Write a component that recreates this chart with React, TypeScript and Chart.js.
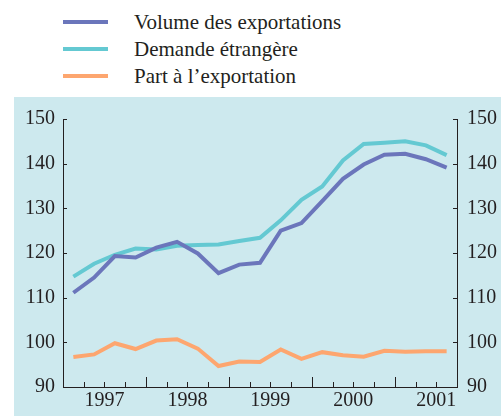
import React, { useEffect, useRef } from "react";
import { Chart, registerables } from "chart.js";

Chart.register(...registerables);

// Quarterly points, 1997 Q1 .. 2001 Q3
const quarters = [
  "1997T1", "1997T2", "1997T3", "1997T4",
  "1998T1", "1998T2", "1998T3", "1998T4",
  "1999T1", "1999T2", "1999T3", "1999T4",
  "2000T1", "2000T2", "2000T3", "2000T4",
  "2001T1", "2001T2", "2001T3",
];
const years = ["1997", "1998", "1999", "2000", "2001"];

const volumeExportations = [
  111.1, 114.5, 119.3, 119.0, 121.2, 122.5, 119.9, 115.5, 117.4, 117.8,
  125.0, 126.7, 131.6, 136.6, 139.8, 142.0, 142.2, 141.0, 139.1,
];
const demandeEtrangere = [
  114.7, 117.6, 119.6, 121.0, 120.8, 121.6, 121.8, 121.9, 122.7, 123.4,
  127.3, 131.9, 134.9, 140.7, 144.4, 144.7, 145.0, 144.1, 141.9,
];
const partExportation = [
  96.7, 97.3, 99.8, 98.5, 100.4, 100.7, 98.6, 94.7, 95.7, 95.6,
  98.4, 96.3, 97.8, 97.1, 96.8, 98.1, 97.9, 98.0, 98.0,
];

const seriesNames = ["Volume des exportations", "Demande étrangère", "Part à l’exportation"];
const seriesColors = ["#6b76bb", "#64c9d2", "#fda66f"];

const Y_MIN = 90;
const Y_MAX = 150;
const FONT = "'Liberation Serif', 'Times New Roman', serif";
const INK = "#231f20";

const tickMarks = {
  id: "tickMarks",
  afterDraw(chart: any) {
    const { ctx, chartArea } = chart;
    ctx.save();
    ctx.strokeStyle = INK;
    ctx.lineWidth = 1;
    const xs = chart.scales.x;
    xs.ticks.forEach((t: any) => {
      if (t.value <= xs.min || t.value >= xs.max) return;
      const px = Math.round(xs.getPixelForValue(t.value)) + 0.5;
      const len = t.value % 4 === 0 ? 10 : 5;
      ctx.beginPath();
      ctx.moveTo(px, chartArea.bottom);
      ctx.lineTo(px, chartArea.bottom - len);
      ctx.stroke();
    });
    const yl = chart.scales.y;
    yl.ticks.forEach((t: any) => {
      const py = Math.round(yl.getPixelForValue(t.value)) + 0.5;
      ctx.beginPath();
      ctx.moveTo(chartArea.left, py);
      ctx.lineTo(chartArea.left + 4, py);
      ctx.stroke();
    });
    const yr = chart.scales.y2;
    yr.ticks.forEach((t: any) => {
      const py = Math.round(yr.getPixelForValue(t.value)) + 0.5;
      ctx.beginPath();
      ctx.moveTo(chartArea.right, py);
      ctx.lineTo(chartArea.right - 4, py);
      ctx.stroke();
    });
    ctx.restore();
  },
};

export default function App() {
  const ref = useRef<HTMLCanvasElement>(null);

  useEffect(() => {
    if (!ref.current) return;
    const series = [volumeExportations, demandeEtrangere, partExportation];
    const chart = new Chart(ref.current, {
      type: "line",
      data: {
        datasets: series.map((s, k) => ({
          label: seriesNames[k],
          data: s.map((v, i) => ({ x: i + 0.5, y: v })),
          borderColor: seriesColors[k],
          backgroundColor: seriesColors[k],
          borderWidth: 4,
          pointRadius: 0,
          tension: 0,
          fill: false,
          yAxisID: "y",
        })),
      },
      options: {
        animation: false,
        responsive: false,
        maintainAspectRatio: false,
        layout: { padding: { top: 20, left: 0, right: 0, bottom: 0 } },
        plugins: { legend: { display: false }, tooltip: { enabled: false } },
        scales: {
          x: {
            type: "linear",
            position: "bottom",
            min: 0,
            max: quarters.length,
            grid: { display: false, drawTicks: false, tickLength: 0 },
            border: { display: true, color: INK, width: 1 },
            ticks: {
              stepSize: 1,
              autoSkip: false,
              maxRotation: 0,
              minRotation: 0,
              padding: 2,
              color: INK,
              font: { family: FONT, size: 20 },
              callback: (v: any) => {
                const n = Number(v);
                if (n % 4 === 2) {
                  const idx = (n - 2) / 4;
                  return years[idx] ?? "";
                }
                return "";
              },
            },
            afterFit: (s: any) => {
              s.height = 29;
            },
          },
          y: {
            position: "left",
            min: Y_MIN,
            max: Y_MAX,
            grid: { display: false, drawTicks: false, tickLength: 0 },
            border: { display: true, color: INK, width: 1 },
            ticks: {
              stepSize: 10,
              padding: 8,
              color: INK,
              font: { family: FONT, size: 20 },
            },
            afterFit: (s: any) => {
              s.width = 49;
            },
          },
          y2: {
            position: "right",
            min: Y_MIN,
            max: Y_MAX,
            grid: { display: false, drawTicks: false, tickLength: 0 },
            border: { display: true, color: INK, width: 1 },
            ticks: {
              stepSize: 10,
              padding: 10,
              color: INK,
              font: { family: FONT, size: 20 },
            },
            afterFit: (s: any) => {
              s.width = 44;
            },
          },
        },
      },
      plugins: [tickMarks],
    });
    return () => chart.destroy();
  }, []);

  const legendTops = [12.4, 39.1, 65.8];

  return (
    <div style={{ position: "absolute", left: 0, top: 0, width: 501, height: 416, background: "#ffffff", overflow: "hidden" }}>
      {seriesNames.map((name, k) => (
        <React.Fragment key={name}>
          <div
            style={{
              position: "absolute",
              left: 63,
              top: legendTops[k] + 7.8,
              width: 45,
              height: 4,
              background: seriesColors[k],
            }}
          />
          <div
            style={{
              position: "absolute",
              left: 134,
              top: legendTops[k],
              fontFamily: FONT,
              fontSize: 21,
              lineHeight: "20px",
              color: INK,
              whiteSpace: "nowrap",
            }}
          >
            {name}
          </div>
        </React.Fragment>
      ))}
      <div style={{ position: "absolute", left: 14, top: 97, width: 487, height: 319, background: "#cde9ee" }}>
        <canvas ref={ref} width={487} height={319} style={{ display: "block", width: 487, height: 319 }} />
      </div>
    </div>
  );
}
